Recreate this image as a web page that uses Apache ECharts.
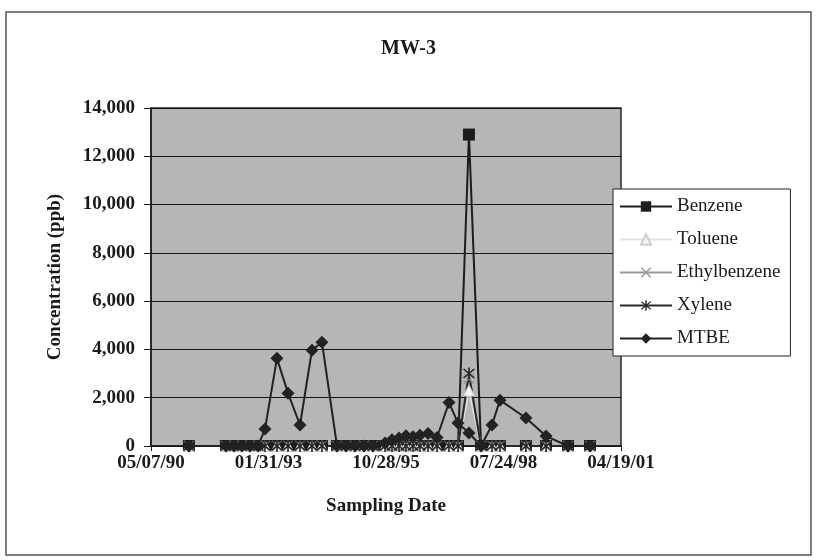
<!DOCTYPE html>
<html>
<head>
<meta charset="utf-8">
<script src="https://cdn.jsdelivr.net/npm/echarts@6/dist/echarts.min.js"></script>
<style>
  html, body { margin: 0; padding: 0; background: #ffffff; }
  #chart { width: 817px; height: 560px; }
</style>
</head>
<body>
<div id="chart"></div>
<script>
// Sampling dates (MM/DD/YY) and analyte concentrations in ppb
const sampleDates = [
  '03/26/91', '02/04/92', '04/12/92', '06/19/92', '08/27/92', '11/03/92',
  '01/01/93', '04/13/93', '07/16/93', '10/26/93', '02/05/94', '05/01/94',
  '09/06/94', '11/22/94', '02/06/95', '04/24/95', '07/09/95',
  '10/20/95', '12/18/95', '02/16/96', '04/15/96', '06/14/96', '08/12/96', '10/20/96', '01/04/97',
  '04/16/97', '07/02/97', '10/03/97', '01/14/98', '04/17/98', '06/24/98',
  '01/31/99', '07/21/99', '01/24/00', '07/29/00'
];
const benzene = [
  0, 0, 0, 0, 0, 0,
  0, 0, 0, 0, 0, 0,
  0, 0, 0, 0, 0,
  0, 0, 0, 0, 0, 0, 0, 0,
  0, 0, 12900, 0, 0, 0,
  0, 0, 0, 0
];
const toluene = [
  0, 0, 0, 0, 0, 0,
  0, 0, 0, 0, 0, 0,
  0, 0, 0, 0, 0,
  0, 0, 0, 0, 0, 0, 0, 0,
  0, 0, 2300, 0, 0, 0,
  0, 0, 0, 0
];
const ethylbenzene = [
  0, 0, 0, 0, 0, 0,
  0, 0, 0, 0, 0, 0,
  0, 0, 0, 0, 0,
  0, 0, 0, 0, 0, 0, 0, 0,
  0, 0, 2800, 0, 0, 0,
  0, 0, 0, 0
];
const xylene = [
  0, 0, 0, 0, 0, 0,
  0, 0, 0, 0, 0, 0,
  0, 0, 0, 0, 0,
  0, 0, 0, 0, 0, 0, 0, 0,
  0, 0, 3000, 0, 0, 0,
  0, 0, 0, 0
];
const mtbe = [
  0, 0, 0, 0, 0, 0,
  700, 3630, 2190, 870, 3970, 4300,
  0, 0, 0, 0, 0,
  120, 260, 330, 420, 380, 450, 520, 350,
  1800, 950, 540, 0, 870, 1900,
  1160, 410, 0, 0
];
const xTickDates = ['05/07/90', '01/31/93', '10/28/95', '07/24/98', '04/19/01'];
const yTicks = [0, 2000, 4000, 6000, 8000, 10000, 12000, 14000];

// spreadsheet-style day serials so the date axis steps evenly in days
function toSerial(s) {
  const p = s.split('/').map(Number);
  const yr = p[2] < 50 ? 2000 + p[2] : 1900 + p[2];
  return Math.round(Date.UTC(yr, p[0] - 1, p[1]) / 86400000) + 25569;
}
function fromSerial(n) {
  const d = new Date((n - 25569) * 86400000);
  const pad = v => (v < 10 ? '0' : '') + v;
  return pad(d.getUTCMonth() + 1) + '/' + pad(d.getUTCDate()) + '/' + pad(d.getUTCFullYear() % 100);
}

const xMin = toSerial(xTickDates[0]);
const xMax = toSerial(xTickDates[xTickDates.length - 1]);
const xStep = toSerial(xTickDates[1]) - xMin;
const pairs = arr => sampleDates.map((d, i) => [toSerial(d), arr[i]]);

const serif = "'Liberation Serif', 'Times New Roman', serif";
const xPath = 'path://M1,0 L5,4 L9,0 L10,1 L6,5 L10,9 L9,10 L5,6 L1,10 L0,9 L4,5 L0,1 Z';
const starPath = 'path://M1,0 L5,4 L9,0 L10,1 L6,5 L10,9 L9,10 L5,6 L1,10 L0,9 L4,5 L0,1 Z M4.3,-1 L5.7,-1 L5.7,11 L4.3,11 Z';

const chart = echarts.init(document.getElementById('chart'), null, { renderer: 'canvas' });
chart.setOption({
  backgroundColor: '#ffffff',
  animation: false,
  title: {
    text: 'MW-3',
    left: 'center',
    top: 34,
    textStyle: { fontFamily: serif, fontSize: 20, fontWeight: 'bold', color: '#1a1a1a' }
  },
  graphic: [{
    type: 'rect',
    shape: { x: 6, y: 12, width: 805, height: 543 },
    style: { fill: 'none', stroke: '#555555', lineWidth: 1.5 },
    silent: true
  }],
  legend: {
    orient: 'vertical',
    left: 613,
    top: 189,
    itemWidth: 52,
    itemHeight: 13,
    itemGap: 14,
    padding: [8, 10, 8, 6],
    backgroundColor: '#ffffff',
    borderColor: '#222222',
    borderWidth: 1,
    textStyle: { fontFamily: serif, fontSize: 19, color: '#1a1a1a' },
    data: ['Benzene', 'Toluene', 'Ethylbenzene', 'Xylene', 'MTBE']
  },
  grid: {
    left: 151, right: 196, top: 108, bottom: 114,
    show: true,
    backgroundColor: '#b6b6b6',
    borderColor: '#2a2a2a',
    borderWidth: 1.5
  },
  xAxis: {
    type: 'value',
    min: xMin,
    max: xMax,
    interval: xStep,
    name: 'Sampling Date',
    nameLocation: 'middle',
    nameGap: 51,
    nameTextStyle: { fontFamily: serif, fontSize: 19, fontWeight: 'bold', color: '#1a1a1a' },
    axisLine: { show: true, onZero: false, lineStyle: { color: '#1a1a1a', width: 1.5 } },
    axisTick: { show: true, inside: false, length: 5, lineStyle: { color: '#1a1a1a' } },
    splitLine: { show: false },
    axisLabel: {
      margin: 8,
      fontFamily: serif, fontSize: 19, fontWeight: 'bold', color: '#1a1a1a',
      formatter: v => ((v - xMin) % xStep === 0 ? fromSerial(v) : '')
    }
  },
  yAxis: {
    type: 'value',
    min: yTicks[0],
    max: yTicks[yTicks.length - 1],
    interval: yTicks[1] - yTicks[0],
    name: 'Concentration (ppb)',
    nameLocation: 'middle',
    nameGap: 86,
    nameTextStyle: { fontFamily: serif, fontSize: 19, fontWeight: 'bold', color: '#1a1a1a' },
    axisLine: { show: true, lineStyle: { color: '#1a1a1a', width: 1.5 } },
    axisTick: { show: true, inside: false, length: 7, lineStyle: { color: '#1a1a1a' } },
    splitLine: { show: true, lineStyle: { color: '#111111', width: 1 } },
    axisLabel: {
      margin: 16,
      fontFamily: serif, fontSize: 19, fontWeight: 'bold', color: '#1a1a1a',
      formatter: v => v.toLocaleString('en-US')
    }
  },
  series: [
    {
      name: 'Benzene', type: 'line', data: pairs(benzene),
      symbol: 'rect', symbolSize: 12,
      itemStyle: { color: '#1c1c1c' },
      lineStyle: { color: '#1c1c1c', width: 2 }
    },
    {
      name: 'Toluene', type: 'line', data: pairs(toluene),
      symbol: 'triangle', symbolSize: 11,
      itemStyle: { color: '#f4f4f4', borderColor: '#cfcfcf', borderWidth: 1 },
      lineStyle: { color: '#e4e4e4', width: 2 }
    },
    {
      name: 'Ethylbenzene', type: 'line', data: pairs(ethylbenzene),
      symbol: xPath, symbolSize: 11,
      itemStyle: { color: '#9a9a9a' },
      lineStyle: { color: '#9a9a9a', width: 2 }
    },
    {
      name: 'Xylene', type: 'line', data: pairs(xylene),
      symbol: starPath, symbolSize: 12,
      itemStyle: { color: '#2a2a2a' },
      lineStyle: { color: '#2a2a2a', width: 2 }
    },
    {
      name: 'MTBE', type: 'line', data: pairs(mtbe),
      symbol: 'diamond', symbolSize: 13,
      itemStyle: { color: '#222222' },
      lineStyle: { color: '#222222', width: 2 }
    }
  ]
});
</script>
</body>
</html>
